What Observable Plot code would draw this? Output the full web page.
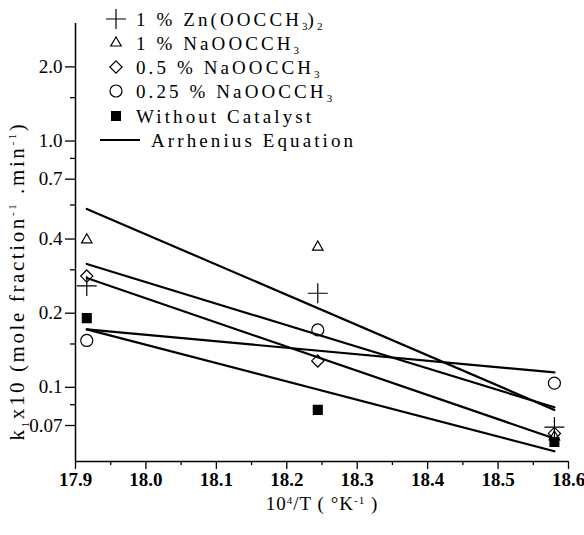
<!DOCTYPE html>
<html><head><meta charset="utf-8">
<script src="https://cdn.jsdelivr.net/npm/d3@7"></script>
<script src="https://cdn.jsdelivr.net/npm/@observablehq/plot@0.6"></script>
<style>
body{margin:0;background:#fff}
#chart svg{font-family:"Liberation Serif","Times New Roman",serif;background:#fff}
</style>
</head><body><div id="chart"></div>
<script>
// 10^4/T values (1/K) for the three reaction temperatures
const invT = [17.916, 18.244, 18.58];
// measured k1 x10 values
const zn1 = [0.258, 0.241, 0.069];
const na1 = [0.397, 0.371, 0.063];
const na05 = [0.283, 0.128, 0.065];
const na025 = [0.155, 0.171, 0.104];
const noCat = [0.191, 0.081, 0.060];
// Arrhenius fitted lines (values at first and last 1/T)
const fitX = [17.916, 18.58];
const fitZn1 = [0.317, 0.083];
const fitNa1 = [0.530, 0.081];
const fitNa05 = [0.278, 0.062];
const fitNa025 = [0.172, 0.115];
const fitNoCat = [0.172, 0.055];
// axis ticks
const yTicks = [2, 1, 0.7, 0.4, 0.2, 0.1, 0.07];
const yTickLabels = ["2.0", "1.0", "0.7", "0.4", "0.2", "0.1", "0.07"];
const yMinorTicks = [1.5, 0.85, 0.55, 0.3, 0.15, 0.085];
const xTicks = [17.9, 18.0, 18.1, 18.2, 18.3, 18.4, 18.5, 18.6];
const xTickLabels = ["17.9", "18.0", "18.1", "18.2", "18.3", "18.4", "18.5", "18.6"];
const xMinorTicks = [17.95, 18.05, 18.15, 18.25, 18.35, 18.45, 18.55];
// legend labels as [text, isSubscript] parts
const legendParts = [
  [["1 % Zn(OOCCH", 0], ["3", 1], [")", 0], ["2", 1]],
  [["1 % NaOOCCH", 0], ["3", 1]],
  [["0.5 % NaOOCCH", 0], ["3", 1]],
  [["0.25 % NaOOCCH", 0], ["3", 1]],
  [["Without Catalyst", 0]],
  [["Arrhenius Equation", 0]]
];

const series = [
  {name: "zn1", vals: zn1, fit: fitZn1, symbol: "plus", d3sym: d3.symbolPlus, r: 6.5, fill: "none"},
  {name: "na1", vals: na1, fit: fitNa1, symbol: "triangle2", d3sym: d3.symbolTriangle2, r: 5, fill: "none"},
  {name: "na05", vals: na05, fit: fitNa05, symbol: "diamond2", d3sym: d3.symbolDiamond2, r: 5.5, fill: "none"},
  {name: "na025", vals: na025, fit: fitNa025, symbol: "circle", d3sym: d3.symbolCircle, r: 6, fill: "none"},
  {name: "noCat", vals: noCat, fit: fitNoCat, symbol: "square", d3sym: d3.symbolSquare, r: 5, fill: "black"}
];

const fitRows = series.flatMap(s => fitX.map((x, i) => ({series: s.name, x, y: s.fit[i]})));

const dotMarks = series.map(s =>
  Plot.dot(invT.map((x, i) => ({x, y: s.vals[i]})), {
    x: "x", y: "y", symbol: s.symbol, r: s.r,
    stroke: "black", strokeWidth: 1.2, fill: s.fill
  })
);

const chart = Plot.plot({
  width: 584,
  height: 535,
  marginLeft: 75,
  marginRight: 16,
  marginTop: 23,
  marginBottom: 74,
  style: {fontFamily: "Liberation Serif, serif", background: "white"},
  x: {domain: [17.9, 18.6], label: null},
  y: {type: "log", domain: [0.05, 3], label: null},
  marks: [
    Plot.ruleX([17.9], {stroke: "black", strokeWidth: 1.5}),
    Plot.ruleY([0.05], {stroke: "black", strokeWidth: 1.5}),
    Plot.axisY(yTicks, {anchor: "left", tickSize: 10, tickPadding: 3, fontSize: 19, strokeWidth: 1.3,
      tickFormat: d => yTickLabels[yTicks.indexOf(d)], label: null}),
    Plot.axisY(yMinorTicks, {anchor: "left", tickSize: 5, strokeWidth: 1.3, text: null, label: null}),
    Plot.axisX(xTicks, {anchor: "bottom", tickSize: 8, tickPadding: 3, fontSize: 19, fontWeight: "bold", strokeWidth: 1.3,
      tickFormat: d => xTickLabels[xTicks.indexOf(d)], label: null}),
    Plot.axisX(xMinorTicks, {anchor: "bottom", tickSize: 4, strokeWidth: 1.3, text: null, label: null}),
    Plot.line(fitRows, {x: "x", y: "y", z: "series", stroke: "black", strokeWidth: 2.2}),
    ...dotMarks
  ]
});

document.getElementById("chart").appendChild(chart);

// Legend (inside the plot area, top) and axis titles
const svg = d3.select(chart);
const legend = svg.append("g").attr("font-size", 19).attr("fill", "black")
  .attr("text-anchor", "start").attr("letter-spacing", "3.1px");
const rowsY = [19, 43, 67, 91, 116, 140];
const symX = 116, textX = 136;
legendParts.forEach((parts, i) => {
  const y = rowsY[i];
  const s = series[i];
  if (!s) {
    legend.append("line").attr("x1", 100).attr("x2", 140).attr("y1", y).attr("y2", y)
      .attr("stroke", "black").attr("stroke-width", 2.2);
  } else {
    legend.append("path")
      .attr("d", d3.symbol(s.d3sym, Math.PI * s.r * s.r)())
      .attr("transform", `translate(${symX},${y})`)
      .attr("fill", s.fill).attr("stroke", "black").attr("stroke-width", 1.2);
  }
  const t = legend.append("text").attr("x", s ? textX : textX + 15).attr("y", y + 7);
  let shift = 0;
  parts.forEach(([txt, sub]) => {
    const ts = t.append("tspan").text(txt);
    if (sub) { ts.attr("font-size", 11).attr("letter-spacing", "0px").attr("dy", (4 - shift) + "px"); shift = 4; }
    else { ts.attr("dy", (0 - shift) + "px"); shift = 0; }
  });
});

// y-axis title
const yt = svg.append("text")
  .attr("transform", "translate(24,281) rotate(-90)")
  .attr("text-anchor", "middle").attr("font-size", 21).attr("letter-spacing", "2.6px")
  .attr("fill", "black");
yt.append("tspan").text("k");
yt.append("tspan").text("1").attr("font-size", 11).attr("dy", "5px");
yt.append("tspan").text("x10 (mole fraction").attr("dy", "-5px");
yt.append("tspan").text("-1").attr("font-size", 11).attr("dy", "-8px");
yt.append("tspan").text(" .min").attr("dy", "8px");
yt.append("tspan").text("-1").attr("font-size", 11).attr("dy", "-8px");
yt.append("tspan").text(")").attr("dy", "8px");

// x-axis title
const xt = svg.append("text")
  .attr("x", 322).attr("y", 510)
  .attr("text-anchor", "middle").attr("font-size", 19).attr("letter-spacing", "1px")
  .attr("fill", "black");
xt.append("tspan").text("10");
xt.append("tspan").text("4").attr("font-size", 11).attr("dy", "-6px");
xt.append("tspan").text("/T ( °K").attr("dy", "6px");
xt.append("tspan").text("-1").attr("font-size", 11).attr("dy", "-6px");
xt.append("tspan").text(" )").attr("dy", "6px");
</script>
</body></html>
